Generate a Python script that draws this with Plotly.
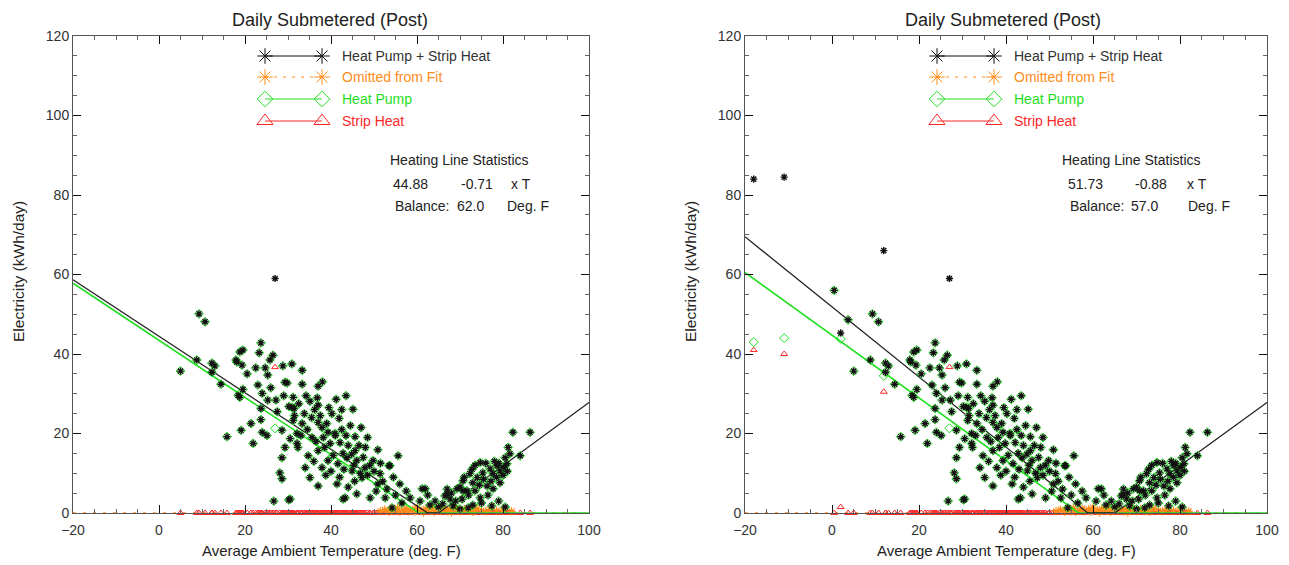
import plotly.graph_objects as go

# the page body adds an 8px margin, so the figure is drawn 8px in from the window corner
OFF = 8
W, H = 1289 - OFF, 565 - OFF


def px(x):
    return (x - OFF) / W


def py(y):
    return 1 - (y - OFF) / H


# ---------------- data ----------------
# days with no strip heat (heat pump == total), shown in both panels
base_temp = [
    5.0, 8.8, 9.3, 10.7, 12.3, 13.0, 12.3, 14.4, 15.8, 17.9, 18.8, 19.5, 18.1, 19.3, 18.4, 18.8, 19.5, 19.1,
    21.4, 21.9, 23.7, 23.3, 24.7, 25.3, 25.8, 26.5, 23.0, 24.0, 25.3, 27.2, 23.7, 23.7, 24.0, 25.1, 28.8,
    30.9, 29.3, 31.2, 30.2, 31.4, 28.6, 29.3, 30.5, 28.6, 28.1, 28.6, 26.7, 30.2, 32.1, 32.1,
    33.3, 29.8, 33.3, 37.0, 35.1, 37.0, 41.2, 45.1, 30.9, 31.2, 33.3, 37.0, 37.9, 41.9, 39.3, 40.9, 45.6,
    42.1, 44.0, 45.6, 50.9, 55.6, 35.6, 32.3, 34.7, 37.0, 37.9, 39.3, 41.6, 43.7, 46.0, 47.9, 49.8, 51.4,
    53.7, 56.0, 37.0, 41.4, 43.3, 46.0, 49.1, 52.6, 30.5, 58.4, 61.2, 54.2, 34.0, 35.1, 47.2, 44.9, 50.9, 53.5,
    31.5, 32.5, 33.8, 34.5, 35.5, 36.2, 36.5, 37.5, 38.2, 38.5, 39.0, 39.8, 40.2, 40.5, 41.0, 42.5, 42.8,
    43.0, 43.5, 44.5, 44.8, 45.3, 46.5, 46.8, 47.5, 48.0, 48.5, 49.0, 50.0, 50.5, 51.5, 52.0, 53.0, 54.5,
    55.0, 56.5, 57.5, 36.0, 38.8, 40.0, 42.0, 44.0, 45.5, 33.0, 34.2, 36.8, 38.0, 39.5, 42.5, 43.5, 47.0,
    48.5, 27.5, 29.0, 26.0, 22.5, 20.5, 42.8, 67.0, 70.7,
    60.7, 61.9, 64.2, 66.5, 67.7, 66.0, 70.5, 71.6, 69.3, 70.7, 72.3, 73.0, 74.0, 73.5, 74.7, 74.7, 75.3,
    76.3, 77.0, 77.7, 77.7, 78.6, 79.3, 79.3, 80.5, 80.9, 81.2, 81.6, 84.0, 82.3, 86.3, 77.4, 68.4, 71.9,
    68.0, 69.0, 70.0, 71.0, 72.0, 72.8, 73.5, 74.5, 75.5, 76.0, 76.5, 77.2, 78.0, 78.5, 79.0, 80.0, 80.2,
    81.0, 75.0, 73.0, 65.0, 63.0, 62.5, 67.0, 70.0, 79.0, 80.5,
]
base_kwh = [
    35.7, 38.5, 50.1, 48.1, 37.7, 37.0, 35.4, 32.4, 19.2, 38.5, 40.5, 41.0, 38.0, 37.2, 29.6, 29.1, 31.1, 20.8,
    22.5, 17.5, 42.8, 40.3, 36.5, 34.7, 38.5, 39.7, 32.2, 30.1, 28.4, 28.4, 26.3, 23.5, 20.3, 19.5, 37.0,
    37.5, 32.9, 29.1, 26.8, 26.3, 20.8, 16.5, 18.7, 13.9, 10.1, 8.6, 3.0, 3.3, 20.0, 17.5,
    35.9, 32.7, 32.4, 31.9, 28.1, 27.1, 28.6, 26.1, 26.6, 23.3, 22.5, 22.8, 21.5, 23.8, 20.3, 20.0, 19.2,
    17.7, 17.0, 15.7, 15.9, 14.4, 19.0, 16.5, 14.4, 15.7, 11.4, 13.2, 12.4, 13.9, 13.2, 11.4, 13.2, 9.9,
    11.9, 7.3, 6.8, 7.3, 3.8, 4.8, 3.8, 3.8, 3.5, 3.8, 6.1, 1.3, 11.4, 8.9, 8.9, 10.6, 7.3, 11.9,
    24.5, 27.5, 25.0, 21.0, 24.0, 26.0, 18.0, 24.5, 19.0, 16.5, 22.5, 17.5, 25.0, 14.5, 19.5, 21.0, 15.0,
    11.0, 19.5, 22.0, 14.8, 12.0, 17.0, 10.0, 14.0, 16.5, 9.5, 12.0, 10.5, 5.5, 12.5, 8.0, 6.0, 9.0,
    4.5, 2.5, 5.5, 13.0, 9.5, 10.5, 9.0, 6.5, 8.0, 19.5, 29.5, 29.0, 33.0, 26.5, 26.0, 29.5, 21.5,
    19.0, 25.5, 29.5, 31.5, 36.5, 35.0, 3.5, 4.8, 5.6,
    3.0, 6.1, 3.0, 4.3, 3.5, 2.3, 3.5, 5.6, 6.1, 8.1, 9.9, 7.6, 8.9, 5.6, 3.8, 12.7, 10.1,
    6.8, 11.1, 9.9, 6.1, 11.9, 10.6, 7.6, 13.9, 12.4, 16.5, 14.9, 14.4, 20.3, 20.3, 1.8, 1.8, 1.3,
    5.0, 3.0, 6.5, 9.0, 4.5, 11.0, 12.0, 7.0, 8.5, 12.5, 4.5, 8.0, 13.0, 9.0, 12.5, 9.5, 11.5,
    10.5, 2.5, 2.0, 1.5, 2.0, 4.5, 6.0, 1.0, 3.0, 1.5,
]

# days with strip heat, shown in both panels
strip_temp = [27.0]
strip_total = [59.0]
strip_hp = [21.3]
strip_sh = [36.7]

# extra cold days, shown only in the right panel
cold_temp = [-18.0, -11.0, 11.9, 0.5, 3.7, 2.0]
cold_total = [84.0, 84.5, 66.0, 56.0, 48.6, 45.3]
cold_hp = [43.0, 44.0, 34.5, 56.0, 48.6, 43.8]
cold_sh = [41.0, 40.0, 30.5, 0.0, 0.0, 1.5]

# days omitted from the fit (near balance point)
omit_temp = [51.5, 52.5, 53.5, 54.0, 55.0, 55.5, 56.0, 57.0, 57.5, 58.0, 59.0, 59.5, 60.0, 61.0, 61.5,
             62.0, 63.0, 63.5, 64.0, 65.0, 65.5, 66.0, 67.0, 67.5, 68.0, 69.0, 69.5, 70.0, 71.0, 72.0,
             72.5, 73.0, 74.0, 75.0, 76.0, 77.0, 78.5, 80.0, 82.0]
omit_kwh = [0.4, 0.8, 0.3, 1.0, 0.5, 1.2, 0.3, 0.7, 1.1, 0.4, 0.9, 0.3, 1.3, 0.6, 0.2, 1.0, 0.5, 1.4,
            0.3, 0.8, 0.5, 1.1, 0.4, 0.9, 0.2, 1.2, 0.6, 0.4, 1.0, 0.5, 0.8, 0.3, 1.1, 0.6, 0.4, 0.9,
            0.5, 0.7, 0.4]

# fit lines
fit_temp_left = [-20, 62.5, 65, 100]
fit_total_left = [58.7, 0, 0, 27.8]
fit_hp_temp_left = [-20, 60.5, 100]
fit_hp_left = [57.8, 0, 0]

fit_temp_right = [-20, 58.8, 65, 100]
fit_total_right = [69.5, 0, 0, 27.8]
fit_hp_temp_right = [-20, 56.7, 100]
fit_hp_right = [60.5, 0, 0]

x_range = [-20, 100]
y_range = [0, 120]

stats_left = ["44.88", "-0.71", "62.0"]
stats_right = ["51.73", "-0.88", "57.0"]

title_text = "Daily Submetered (Post)"
x_title = "Average Ambient Temperature (deg. F)"
y_title = "Electricity (kWh/day)"
legend_names = ["Heat Pump + Strip Heat", "Omitted from Fit", "Heat Pump", "Strip Heat"]

# ---------------- style ----------------
FONT = "Liberation Sans"
C_BLACK = "#111111"
C_ORANGE = "#FF8C1A"
C_GREEN = "#1EE01E"
C_RED = "#FF2828"

fig = go.Figure()


def mk(symbol, size, color, width=1.0):
    return dict(symbol=symbol, size=size, color=color, line=dict(width=width, color=color))


def add_panel(xa, ya, temps, totals, hps, shs, fitT, fitTot, fitHT, fitH):
    fig.add_trace(go.Scatter(x=x_range, y=[0, 0], mode="lines", xaxis=xa, yaxis=ya, cliponaxis=False,
                             line=dict(color=C_ORANGE, width=1.5, dash="3px,7px"), showlegend=False))
    fig.add_trace(go.Scatter(x=temps, y=shs, mode="markers", xaxis=xa, yaxis=ya, cliponaxis=False,
                             marker=mk("triangle-up-open", 6, C_RED), showlegend=False))
    fig.add_trace(go.Scatter(x=omit_temp, y=omit_kwh, mode="markers", xaxis=xa, yaxis=ya,
                             cliponaxis=False,
                             marker=mk("asterisk-open", 7, C_ORANGE, 1.2), showlegend=False))
    fig.add_trace(go.Scatter(x=fitHT, y=fitH, mode="lines", xaxis=xa, yaxis=ya,
                             line=dict(color=C_GREEN, width=1.6), showlegend=False))
    fig.add_trace(go.Scatter(x=fitT, y=fitTot, mode="lines", xaxis=xa, yaxis=ya,
                             line=dict(color="#222222", width=1.3), showlegend=False))
    fig.add_trace(go.Scatter(x=temps, y=hps, mode="markers", xaxis=xa, yaxis=ya,
                             marker=mk("diamond-open", 7, C_GREEN), showlegend=False))
    fig.add_trace(go.Scatter(x=temps, y=totals, mode="markers", xaxis=xa, yaxis=ya,
                             marker=mk("asterisk-open", 6, C_BLACK, 1.4), showlegend=False))


tL = base_temp + strip_temp
add_panel("x", "y", tL, base_kwh + strip_total, base_kwh + strip_hp,
          [0.0] * len(base_temp) + strip_sh,
          fit_temp_left, fit_total_left, fit_hp_temp_left, fit_hp_left)
tR = base_temp + strip_temp + cold_temp
add_panel("x2", "y2", tR, base_kwh + strip_total + cold_total, base_kwh + strip_hp + cold_hp,
          [0.0] * len(base_temp) + strip_sh + cold_sh,
          fit_temp_right, fit_total_right, fit_hp_temp_right, fit_hp_right)

# ---------------- custom legends (overlay pixel axes, window pixels) ----------------
leg_rows_y = [56, 77, 99, 121]
leg_styles = [
    (C_BLACK, "asterisk-open", "solid", 13, "#333333"),
    (C_ORANGE, "asterisk-open", "3px,6px", 13, C_ORANGE),
    (C_GREEN, "diamond-open", "solid", 12, C_GREEN),
    (C_RED, "triangle-up-open", "solid", 14, C_RED),
]
annotations = []
for off in (0, 672):
    for ry, name, (col, sym, dash, sz, tcol) in zip(leg_rows_y, legend_names, leg_styles):
        fig.add_trace(go.Scatter(x=[265 + off, 322 + off], y=[ry, ry], mode="lines+markers",
                                 xaxis="x3", yaxis="y3",
                                 line=dict(color=col, width=1, dash=dash),
                                 marker=mk(sym, sz, col), showlegend=False))
        annotations.append(dict(x=px(340 + off), y=py(ry), xref="paper", yref="paper",
                                text=name, showarrow=False, xanchor="left", yanchor="middle",
                                font=dict(family=FONT, size=14, color=tcol)))

for off, st, cols in ((0, stats_left, (391, 459, 509, 393, 455, 505)),
                      (672, stats_right, (394, 461, 513, 396, 457, 514))):
    items = [
        ("Heating Line Statistics", 388 + off, 160),
        (st[0], cols[0] + off, 184), (st[1], cols[1] + off, 184), ("x T", cols[2] + off, 184),
        ("Balance:", cols[3] + off, 206), (st[2], cols[4] + off, 206), ("Deg. F", cols[5] + off, 206),
    ]
    for txt, ax_, ay_ in items:
        annotations.append(dict(x=px(ax_), y=py(ay_), xref="paper", yref="paper", text=txt,
                                showarrow=False, xanchor="left", yanchor="middle",
                                font=dict(family=FONT, size=14, color="#222222")))

for cx, cxt, ytx in ((330, 331, 18), (1003, 1006, 690)):
    annotations.append(dict(x=px(cx), y=py(9), xref="paper", yref="paper", text=title_text,
                            showarrow=False, xanchor="center", yanchor="top", borderpad=0,
                            font=dict(family=FONT, size=18, color="#222222")))
    annotations.append(dict(x=px(cxt), y=py(550), xref="paper", yref="paper", text=x_title,
                            showarrow=False, xanchor="center", yanchor="middle",
                            font=dict(family=FONT, size=15, color="#222222")))
    annotations.append(dict(x=px(ytx), y=py(272), xref="paper", yref="paper", text=y_title,
                            showarrow=False, xanchor="center", yanchor="middle", textangle=-90,
                            font=dict(family=FONT, size=15.5, color="#222222")))

axis_common = dict(
    showline=True, linecolor="#555555", linewidth=1, mirror="ticks",
    ticks="inside", ticklen=8, tickwidth=1.3, tickcolor="#111111",
    showgrid=False, zeroline=False, automargin=False,
    tickfont=dict(family=FONT, size=14, color="#333333"),
    minor=dict(ticks="inside", ticklen=4, tickwidth=1, tickcolor="#666666", dtick=5, showgrid=False),
)

fig.update_layout(
    width=W, height=H,
    margin=dict(l=0, r=0, t=0, b=0, pad=0, autoexpand=False),
    paper_bgcolor="white", plot_bgcolor="rgba(0,0,0,0)",
    showlegend=False,
    xaxis=dict(domain=[px(73), px(589)], range=x_range, dtick=20, tick0=0, anchor="y",
               ticklabelstandoff=4, **axis_common),
    yaxis=dict(domain=[py(513), py(36)], range=y_range, dtick=20, tick0=0, anchor="x",
               **axis_common),
    xaxis2=dict(domain=[px(745), px(1267)], range=x_range, dtick=20, tick0=0, anchor="y2",
                ticklabelstandoff=4, **axis_common),
    yaxis2=dict(domain=[py(513), py(36)], range=y_range, dtick=20, tick0=0, anchor="x2",
                **axis_common),
    xaxis3=dict(domain=[0, 1], range=[OFF, OFF + W], visible=False, anchor="y3", fixedrange=True,
                automargin=False),
    yaxis3=dict(domain=[0, 1], range=[OFF + H, OFF], visible=False, anchor="x3", fixedrange=True,
                automargin=False),
    annotations=annotations,
)

fig.write_html("out.html")
